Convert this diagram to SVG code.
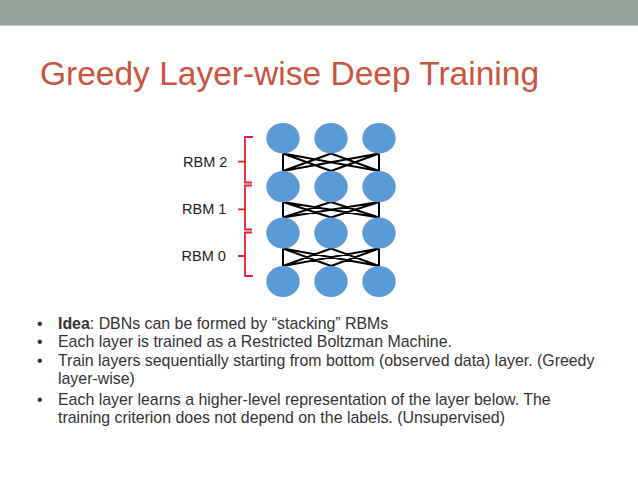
<svg xmlns="http://www.w3.org/2000/svg" width="638" height="479" viewBox="0 0 638 479">
<style>
.title{font-family:"Liberation Sans",Arial,sans-serif;font-size:33.5px;fill:#C9553F}
.lbl{font-family:"Liberation Sans",Arial,sans-serif;font-size:14.5px;fill:#222}
.body{font-family:"Liberation Sans",Arial,sans-serif;font-size:15.9px;fill:#333}
.node{fill:#5B9BD5}
.edge{stroke:#000;stroke-width:2;fill:none}
.brace{stroke:#E8202C;stroke-width:1.8;fill:none}
</style>
<rect x="0" y="0" width="638" height="25" fill="#92A198"/>
<rect x="0" y="25" width="638" height="1" fill="#C9D2CD"/>
<text class="title" x="40" y="85">Greedy Layer-wise Deep Training</text>

<g id="braces">
<path class="brace" d="M253,137 H245 V182.5 H252 M252,185.5 H245 V229.5 H252 M252,232.5 H245 V276 H253 M238,161.7 H245 M238,209.3 H245 M238,256 H245"/>
</g>
<g id="rbm2"><text class="lbl" x="183" y="167">RBM 2</text></g>
<g id="rbm1"><text class="lbl" x="182" y="214">RBM 1</text></g>
<g id="rbm0"><text class="lbl" x="181.5" y="261">RBM 0</text></g>

<g id="connectors">
<path class="edge" d="M283,153.5 L283,171 M379,153.5 L379,171 M283,153.5 L331,171 M283,153.5 L379,171 M331,153.5 L283,171 M331,153.5 L379,171 M379,153.5 L283,171 M379,153.5 L331,171"/>
<path class="edge" d="M283,202 L283,217.5 M379,202 L379,217.5 M283,202 L331,217.5 M283,202 L379,217.5 M331,202 L283,217.5 M331,202 L379,217.5 M379,202 L283,217.5 M379,202 L331,217.5"/>
<path class="edge" d="M283,248.5 L283,266 M379,248.5 L379,266 M283,248.5 L331,266 M283,248.5 L379,266 M331,248.5 L283,266 M331,248.5 L379,266 M379,248.5 L283,266 M379,248.5 L331,266"/>
</g>

<g id="n11"><ellipse class="node" cx="283" cy="138.3" rx="16.7" ry="15.3"/></g>
<g id="n12"><ellipse class="node" cx="331" cy="138.3" rx="16.7" ry="15.3"/></g>
<g id="n13"><ellipse class="node" cx="379" cy="138.3" rx="16.7" ry="15.3"/></g>
<g id="n21"><ellipse class="node" cx="283" cy="186.7" rx="16.7" ry="15.6"/></g>
<g id="n22"><ellipse class="node" cx="331" cy="186.7" rx="16.7" ry="15.6"/></g>
<g id="n23"><ellipse class="node" cx="379" cy="186.7" rx="16.7" ry="15.6"/></g>
<g id="n31"><ellipse class="node" cx="283" cy="233" rx="16.7" ry="15.5"/></g>
<g id="n32"><ellipse class="node" cx="331" cy="233" rx="16.7" ry="15.5"/></g>
<g id="n33"><ellipse class="node" cx="379" cy="233" rx="16.7" ry="15.5"/></g>
<g id="n41"><ellipse class="node" cx="283" cy="281.5" rx="16.7" ry="15.5"/></g>
<g id="n42"><ellipse class="node" cx="331" cy="281.5" rx="16.7" ry="15.5"/></g>
<g id="n43"><ellipse class="node" cx="379" cy="281.5" rx="16.7" ry="15.5"/></g>

<g id="bullets" class="body">
<text x="37" y="329">•</text>
<text x="58" y="329"><tspan font-weight="bold">Idea</tspan>: DBNs can be formed by “stacking” RBMs</text>
<text x="37" y="347">•</text>
<text x="58" y="347">Each layer is trained as a Restricted Boltzman Machine.</text>
<text x="37" y="365.5">•</text>
<text x="58" y="365.5">Train layers sequentially starting from bottom (observed data) layer. (Greedy</text>
<text x="58" y="383.5">layer-wise)</text>
<text x="37" y="405">•</text>
<text x="58" y="405">Each layer learns a higher-level representation of the layer below. The</text>
<text x="58" y="423">training criterion does not depend on the labels. (Unsupervised)</text>
</g>
</svg>
